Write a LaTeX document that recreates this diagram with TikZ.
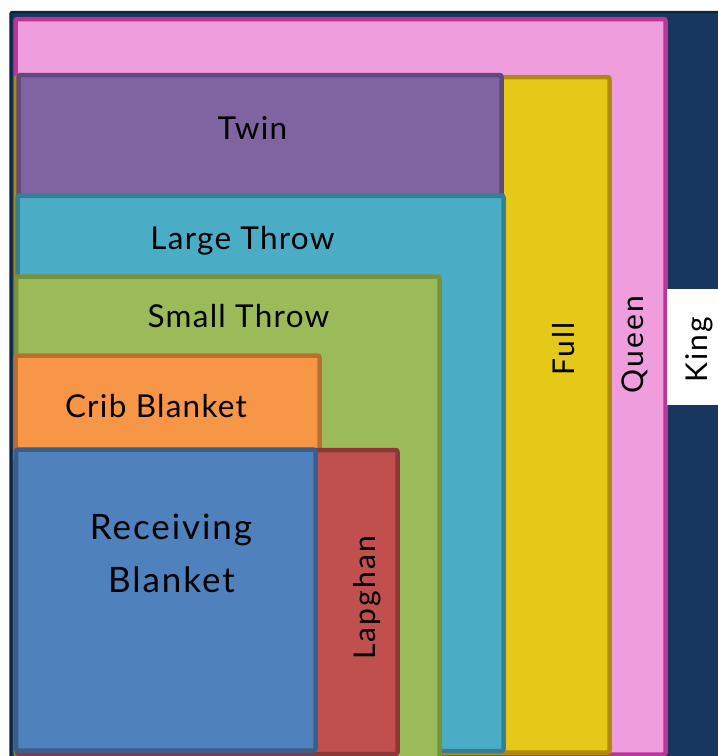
\documentclass[tikz,border=0pt]{standalone}
\usepackage{fontspec}
\setmainfont{Lato}
\newfontfamily\lbfA[LetterSpace=4]{Lato}
\newfontfamily\lbfB[LetterSpace=5.5]{Lato}
\newfontfamily\lbfC[LetterSpace=7]{Lato}
\definecolor{kingF}{RGB}{23,55,94}
\definecolor{kingD}{RGB}{16,37,63}
\definecolor{queenF}{RGB}{239,157,221}
\definecolor{queenD}{RGB}{185,53,151}
\definecolor{fullF}{RGB}{230,200,24}
\definecolor{fullD}{RGB}{176,138,14}
\definecolor{twinF}{RGB}{128,100,162}
\definecolor{twinD}{RGB}{95,75,123}
\definecolor{largeF}{RGB}{75,172,198}
\definecolor{largeD}{RGB}{53,127,148}
\definecolor{smallF}{RGB}{155,187,89}
\definecolor{smallD}{RGB}{118,146,60}
\definecolor{cribF}{RGB}{247,150,70}
\definecolor{cribD}{RGB}{184,112,47}
\definecolor{lapF}{RGB}{192,80,77}
\definecolor{lapD}{RGB}{140,56,54}
\definecolor{recF}{RGB}{79,129,189}
\definecolor{recD}{RGB}{58,94,138}
\tikzset{
  blk/.style={line width=4.5pt, rounded corners=2pt},
  lbl/.style={anchor=base, inner sep=0pt, text=black, font=\lbfA\fontsize{31.5}{36}\selectfont},
  lblbig/.style={anchor=base, inner sep=0pt, text=black, font=\lbfB\fontsize{35}{40}\selectfont},
  lblrot/.style={anchor=base, inner sep=0pt, text=black, rotate=90, font=\lbfC\fontsize{30}{34}\selectfont}
}
\begin{document}
\begin{tikzpicture}[x=1pt,y=-1pt]
\useasboundingbox (0,0) rectangle (718,756);
\clip (0,0) rectangle (718,756);
% King
\draw[fill=kingF, draw=kingD, line width=2.5pt, rounded corners=2pt] (10.5,12) rectangle (740,780);
% Queen
\draw[blk, fill=queenF, draw=queenD] (15.5,19) rectangle (665.5,754.5);
% Full
\draw[blk, fill=fullF, draw=fullD] (16,77) rectangle (609.5,752.5);
% Twin
\draw[blk, fill=twinF, draw=twinD] (18.5,75) rectangle (501.5,205);
% Large Throw
\draw[blk, fill=largeF, draw=largeD] (17.5,195.5) rectangle (503.5,751);
% Small Throw
\draw[blk, fill=smallF, draw=smallD] (16,276.5) rectangle (439.5,762);
% Crib Blanket
\draw[blk, fill=cribF, draw=cribD] (15.5,355.5) rectangle (319.5,460);
% Lapghan
\draw[blk, fill=lapF, draw=lapD] (17,450) rectangle (397.5,754);
% Receiving Blanket
\draw[blk, fill=recF, draw=recD] (16,449.5) rectangle (315.5,750.5);
% King label box
\fill[white] (667,289) rectangle (720,405);
% Labels
\node[lbl] (twin) at (252.5,139) {Twin};
\node[lbl] (large) at (242.5,249) {Large Throw};
\node[lbl] (small) at (238.5,327) {Small Throw};
\node[lbl] (crib) at (156,417) {Crib Blanket};
\node[lblbig] (rec1) at (171,539) {Receiving};
\node[lblbig] (rec2) at (171.5,592) {Blanket};
\node[lblrot] (lap) at (375,598) {Lapghan};
\node[lblrot] (full) at (574,348.5) {Full};
\node[lblrot] (queen) at (643,344.5) {Queen};
\node[lblrot] (king) at (707,350) {King};
\end{tikzpicture}
\end{document}
